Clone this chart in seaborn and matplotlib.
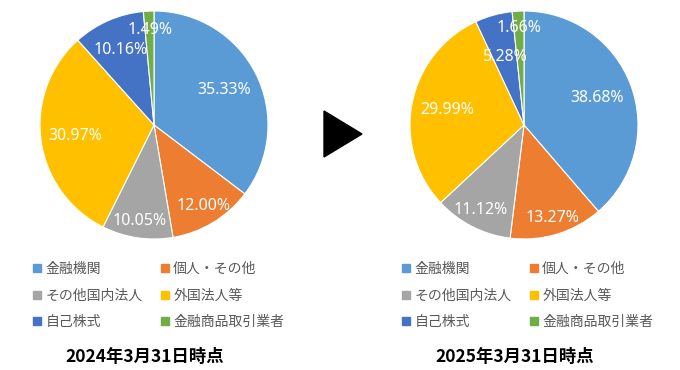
import matplotlib
matplotlib.use("Agg")
import matplotlib.pyplot as plt
import seaborn as sns
import numpy as np
from matplotlib.lines import Line2D
from matplotlib.patches import Polygon

# data
categories = ["金融機関", "個人・その他", "その他国内法人", "外国法人等", "自己株式", "金融商品取引業者"]
share_2024 = [35.33, 12.00, 10.05, 30.97, 10.16, 1.49]
share_2025 = [38.68, 13.27, 11.12, 29.99, 5.28, 1.66]
titles = ["2024年3月31日時点", "2025年3月31日時点"]

colors = ["#5B9BD5", "#ED7D31", "#A5A5A5", "#FFC000", "#4472C4", "#70AD47"]
# label distance from centre (fraction of radius), per slice
label_dist_2024 = [0.69, 0.83, 0.85, 0.70, 0.72, 0.83]
label_dist_2025 = [0.68, 0.85, 0.84, 0.69, 0.62, 0.85]

sns.set_theme(style="white")
plt.rcParams['font.family'] = ['Noto Sans CJK JP', 'DejaVu Sans']

W, H = 680, 370
fig = plt.figure(figsize=(W / 100, H / 100), dpi=100)


def px_axes(cx, cy, r, pad=1.05):
    # axes box (pixels from top-left) around a pie of radius r
    return fig.add_axes([(cx - r * pad) / W, (H - cy - r * pad) / H,
                         2 * r * pad / W, 2 * r * pad / H])


def draw_pie(ax, values, dists):
    wedges, _ = ax.pie(values, colors=colors, startangle=90, counterclock=False,
                       wedgeprops=dict(edgecolor="white", linewidth=0.8))
    for w, v, d in zip(wedges, values, dists):
        th = np.deg2rad((w.theta1 + w.theta2) / 2)
        ax.text(d * np.cos(th), d * np.sin(th), f"{v:.2f}%", ha="center", va="center",
                color="white", fontsize=11.5, family=["Noto Sans", "DejaVu Sans"])
    ax.set_xlim(-1.05, 1.05)
    ax.set_ylim(-1.05, 1.05)
    ax.set_aspect("equal")
    ax.axis("off")


def draw_legend(ax, x0, y0):
    order = [0, 2, 4, 1, 3, 5]
    handles = [Line2D([], [], marker="s", linestyle="", color=colors[i], markersize=5.5) for i in order]
    labels = [categories[i] for i in order]
    ax.legend(handles, labels, ncol=2, loc="upper left", bbox_to_anchor=(x0 / W, 1 - y0 / H),
              bbox_transform=fig.transFigure, frameon=False, fontsize=10, labelcolor="#595959",
              handlelength=0.6, handletextpad=0.3, columnspacing=1.3, labelspacing=0.9,
              borderpad=0, borderaxespad=0)


ax1 = px_axes(154, 125, 114)
draw_pie(ax1, share_2024, label_dist_2024)
draw_legend(ax1, 33, 262)

ax2 = px_axes(524, 125, 114)
draw_pie(ax2, share_2025, label_dist_2025)
draw_legend(ax2, 402, 262)

fig.text(145 / W, 1 - 357 / H, titles[0], ha="center", va="center", fontsize=12.5, weight="bold", color="black")
fig.text(515 / W, 1 - 357 / H, titles[1], ha="center", va="center", fontsize=12.5, weight="bold", color="black")

# arrow triangle between the pies
tri = Polygon([(324 / W, 1 - 111 / H), (324 / W, 1 - 157 / H), (362 / W, 1 - 134 / H)],
              closed=True, color="black", transform=fig.transFigure)
fig.add_artist(tri)

fig.savefig("out.png", dpi=100, facecolor="white")
